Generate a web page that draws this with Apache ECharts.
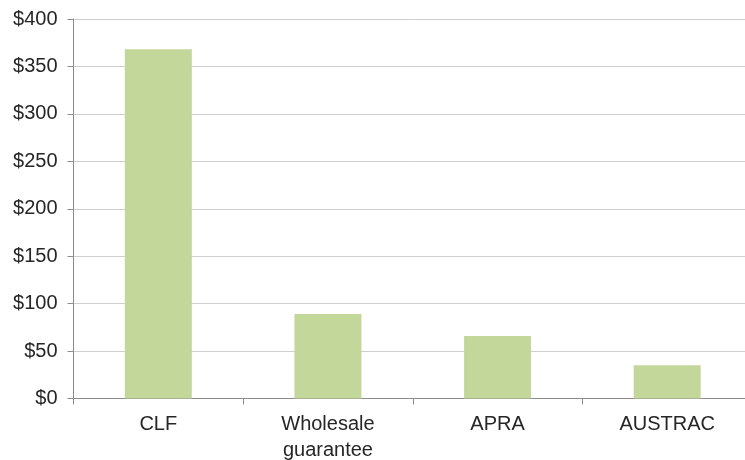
<!DOCTYPE html>
<html><head><meta charset="utf-8">
<script src="https://cdn.jsdelivr.net/npm/echarts@6/dist/echarts.min.js"></script>
<style>html,body{margin:0;padding:0;background:#fff}#c{width:745px;height:460px}</style>
</head><body><div id="c"></div>
<script>
const categories = ["CLF", "Wholesale\nguarantee", "APRA", "AUSTRAC"];
const values = [368, 89, 66, 35];
const yTicks = { min: 0, max: 400, interval: 50 };

const chart = echarts.init(document.getElementById('c'));
chart.setOption({
  animation: false,
  grid: { left: 73.5, right: -7, top: 19, bottom: 61.5, containLabel: false, outerBoundsMode: 'none' },
  xAxis: {
    type: 'category', data: categories,
    axisLine: { lineStyle: { color: '#8c8c8c', width: 1 } },
    axisTick: { show: true, length: 6, alignWithLabel: false, lineStyle: { color: '#8c8c8c' } },
    axisLabel: { color: '#262626', fontFamily: 'Liberation Sans', fontSize: 20, margin: 13, lineHeight: 26 }
  },
  yAxis: {
    type: 'value', min: yTicks.min, max: yTicks.max, interval: yTicks.interval,
    axisLine: { show: true, lineStyle: { color: '#8c8c8c' } },
    axisTick: { show: true, length: 6, lineStyle: { color: '#8c8c8c' } },
    splitLine: { lineStyle: { color: '#cfcfcf', width: 1 } },
    axisLabel: { color: '#262626', fontFamily: 'Liberation Sans', fontSize: 20, margin: 16, formatter: v => '$' + v }
  },
  series: [{
    type: 'bar', data: values, barWidth: '39.5%',
    itemStyle: { color: '#c4d79b' }
  }]
});
</script></body></html>
